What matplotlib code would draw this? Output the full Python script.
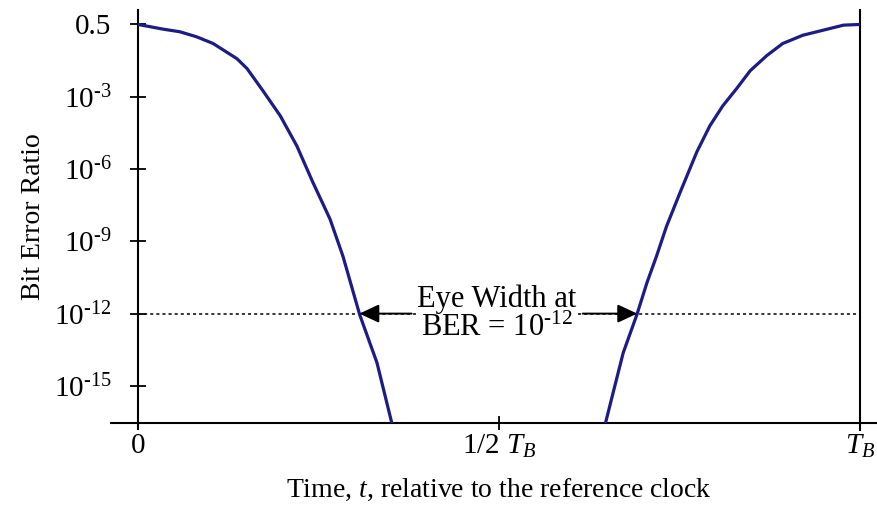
import numpy as np
import matplotlib.pyplot as plt
from matplotlib.lines import Line2D

plt.rcParams["font.family"] = "Liberation Serif"
plt.rcParams["mathtext.fontset"] = "custom"
plt.rcParams["mathtext.rm"] = "Liberation Serif"
plt.rcParams["mathtext.it"] = "Liberation Serif:italic"

# bathtub edges: time in units of T_B and log10 of the bit error ratio
t_left = [0.0, 0.035, 0.058, 0.081, 0.104, 0.137, 0.151, 0.173, 0.197,
          0.220, 0.242, 0.266, 0.284, 0.307, 0.331, 0.352]
log_ber_left = [-0.301, -0.477, -0.574, -0.760, -1.012, -1.578, -1.947,
                -2.775, -3.79, -5.04, -6.54, -8.08, -9.63, -12.04, -14.04,
                -16.6]
t_right = [0.647, 0.658, 0.672, 0.691, 0.705, 0.718, 0.732, 0.751, 0.774,
           0.792, 0.810, 0.829, 0.848, 0.871, 0.893, 0.921, 0.949, 0.977,
           1.0]
log_ber_right = [-16.6, -15.29, -13.63, -12.04, -10.71, -9.63, -8.38,
                 -6.96, -5.29, -4.21, -3.375, -2.70, -2.026, -1.461, -1.012,
                 -0.702, -0.515, -0.327, -0.301]

ber_ticks = [0.5, 1e-3, 1e-6, 1e-9, 1e-12, 1e-15]
ber_tick_labels = ["0.5", r"$10^{\text{-}3}$", r"$10^{\text{-}6}$",
                   r"$10^{\text{-}9}$", r"$10^{\text{-}12}$",
                   r"$10^{\text{-}15}$"]
t_ticks = [0.0, 0.5, 1.0]
t_tick_labels = ["0", r"1/2 $T_B$", r"$T_B$"]
target_ber = 1e-12

# log axis where 0.5 sits one "3-decade" step above 1e-3
TOP = np.log10(0.5)


def fwd(y):
    l = np.log10(np.clip(y, 1e-300, None))
    return np.where(l > -3, -3 + (l + 3) * 3 / (3 + TOP), l)


def inv(v):
    v = np.asarray(v, dtype=float)
    return np.where(v > -3, 10 ** (-3 + (v + 3) * (3 + TOP) / 3), 10.0 ** v)


ber_left = 10.0 ** np.array(log_ber_left)
ber_right = 10.0 ** np.array(log_ber_right)

fig = plt.figure(figsize=(8.77, 5.14), dpi=100)
ax = fig.add_axes([138 / 877, 1 - 423 / 514, 722 / 877, 413 / 514])
ax.set_yscale("function", functions=(fwd, inv))
ax.set_xlim(0, 1)
ax.set_ylim(10 ** -16.54, inv(0.6))

line_kw = dict(color="#1c1c86", linewidth=2.3, zorder=4)
ax.plot(t_left, ber_left, **line_kw)
ax.plot(t_right, ber_right, **line_kw)

# threshold line and eye-width arrows
ax.axhline(target_ber, color="black", linewidth=1.1, linestyle=(0, (2, 2)),
           zorder=2)
cross_left = np.interp(-12, log_ber_left[::-1], t_left[::-1])
cross_right = np.interp(-12, log_ber_right, t_right)
ax.text(0.497, target_ber, "Eye Width at\nBER = $10^{\\text{-}12}$",
        ha="center", va="center", fontsize=22, linespacing=1.0, zorder=3,
        bbox=dict(facecolor="white", edgecolor="none", pad=1))
arrow_kw = dict(arrowstyle="-|>,head_length=0.6,head_width=0.28",
                mutation_scale=20, color="black", lw=1.4,
                shrinkA=0, shrinkB=0)
ax.annotate("", xy=(cross_left, target_ber), xytext=(0.379, target_ber),
            arrowprops=arrow_kw, zorder=5)
ax.annotate("", xy=(cross_right, target_ber), xytext=(0.616, target_ber),
            arrowprops=arrow_kw, zorder=5)

# axes frame: left axis, extended bottom axis, bit-period boundary
for side in ("top", "right", "bottom"):
    ax.spines[side].set_visible(False)
ax.spines["left"].set_linewidth(1.5)
ax.add_line(Line2D([-0.037, 1.03], [0, 0], transform=ax.transAxes,
                   color="black", linewidth=1.5, clip_on=False))
ax.add_line(Line2D([0, 0], [-0.014, 0], transform=ax.transAxes,
                   color="black", linewidth=1.5, clip_on=False))
ax.axvline(1.0, ymin=-0.018, ymax=1, color="black", linewidth=1.5,
           clip_on=False)

ax.set_yticks(ber_ticks)
ax.set_yticklabels(ber_tick_labels)
ax.minorticks_off()
ax.set_xticks(t_ticks)
ax.set_xticklabels(t_tick_labels)
ax.tick_params(axis="y", direction="inout", length=12, width=1.3,
               labelsize=21, pad=13)
ax.tick_params(axis="x", direction="inout", length=10, width=1.3,
               labelsize=21, pad=2)

ax.set_ylabel("Bit Error Ratio", fontsize=20, labelpad=6)
ax.set_xlabel("Time, $t$, relative to the reference clock", fontsize=20,
              labelpad=12)

fig.savefig("out.png", dpi=100)
